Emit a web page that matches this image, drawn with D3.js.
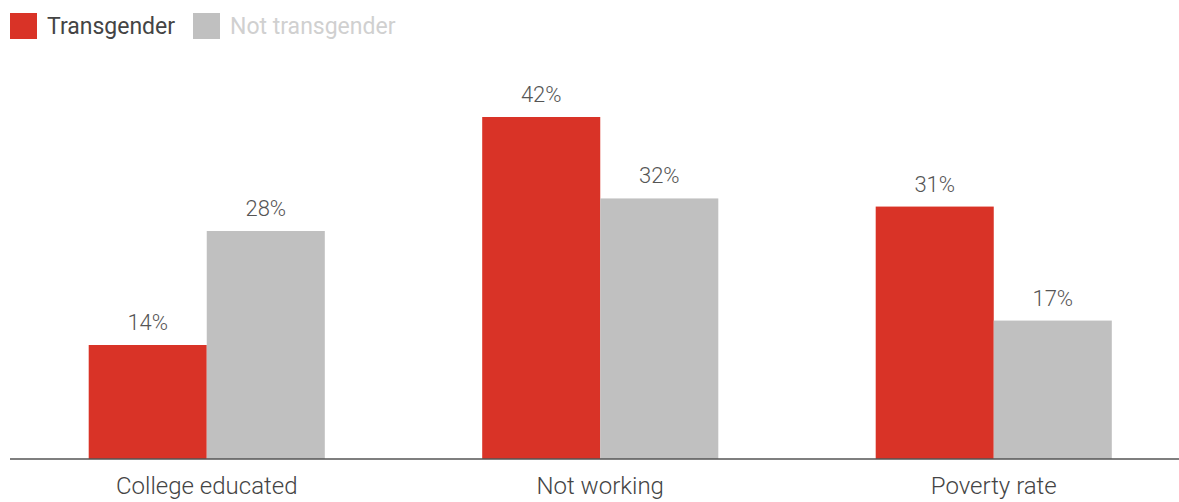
<!DOCTYPE html>
<html>
<head>
<meta charset="utf-8">
<script src="https://cdn.jsdelivr.net/npm/d3@7"></script>
<style>
  body { margin: 0; background: #fff; }
  svg { display: block; font-family: Roboto, "Noto Sans", sans-serif; }
</style>
</head>
<body>
<svg id="chart" width="1179" height="502"></svg>
<script>
const categories = ["College educated", "Not working", "Poverty rate"];
const seriesNames = ["Transgender", "Not transgender"];
const transgender = [14, 42, 31];
const notTransgender = [28, 32, 17];
const colors = ["#d93327", "#c0c0c0"];

const svg = d3.select("#chart");
const width = 1179;
const baseline = 459;

const rows = categories.map(function (c, i) {
    return { category: c, values: [transgender[i], notTransgender[i]] };
});

const x0 = d3.scaleBand()
    .domain(categories)
    .range([10, 1190.5])
    .paddingInner(0.4)
    .paddingOuter(0.2);

const x1 = d3.scaleBand()
    .domain(seriesNames)
    .range([0, x0.bandwidth()]);

const y = d3.scaleLinear()
    .domain([0, 42])
    .range([baseline, 117]);

// bars
const groups = svg.append("g")
    .selectAll("g")
    .data(rows)
    .join("g")
    .attr("transform", d => `translate(${x0(d.category)},0)`);

groups.selectAll("rect")
    .data(d => d.values.map((v, i) => ({ name: seriesNames[i], value: v, i: i })))
    .join("rect")
    .attr("x", d => x1(d.name))
    .attr("y", d => y(d.value))
    .attr("width", x1.bandwidth())
    .attr("height", d => baseline - y(d.value))
    .attr("fill", d => colors[d.i]);

groups.selectAll("text")
    .data(d => d.values.map((v, i) => ({ name: seriesNames[i], value: v })))
    .join("text")
    .attr("x", d => x1(d.name) + x1.bandwidth() / 2)
    .attr("y", d => y(d.value) - 15)
    .attr("text-anchor", "middle")
    .attr("font-size", 22)
    .attr("font-weight", 300)
    .attr("fill", "#555")
    .text(d => d.value + "%");

// axis
const xAxis = svg.append("g")
    .attr("transform", `translate(0,${baseline})`)
    .call(d3.axisBottom(x0).tickSize(0).tickPadding(0));
xAxis.select(".domain")
    .attr("d", `M10,0H${width}`)
    .attr("stroke", "#555")
    .attr("stroke-width", 1.5);
xAxis.selectAll("text")
    .attr("font-family", "Roboto, 'Noto Sans', sans-serif")
    .attr("font-size", 24)
    .attr("font-weight", 300)
    .attr("fill", "#444")
    .attr("dy", null)
    .attr("y", 35);

// legend
const legendX = [10, 193];
const legend = svg.append("g")
    .selectAll("g")
    .data(seriesNames)
    .join("g")
    .attr("transform", (d, i) => `translate(${legendX[i]},13)`);
legend.append("rect")
    .attr("width", 27)
    .attr("height", 26)
    .attr("fill", (d, i) => colors[i]);
legend.append("text")
    .attr("x", 37)
    .attr("y", 21)
    .attr("font-size", 23)
    .attr("fill", (d, i) => i === 0 ? "#444" : "#d0d0d0")
    .text(d => d);
</script>
</body>
</html>
